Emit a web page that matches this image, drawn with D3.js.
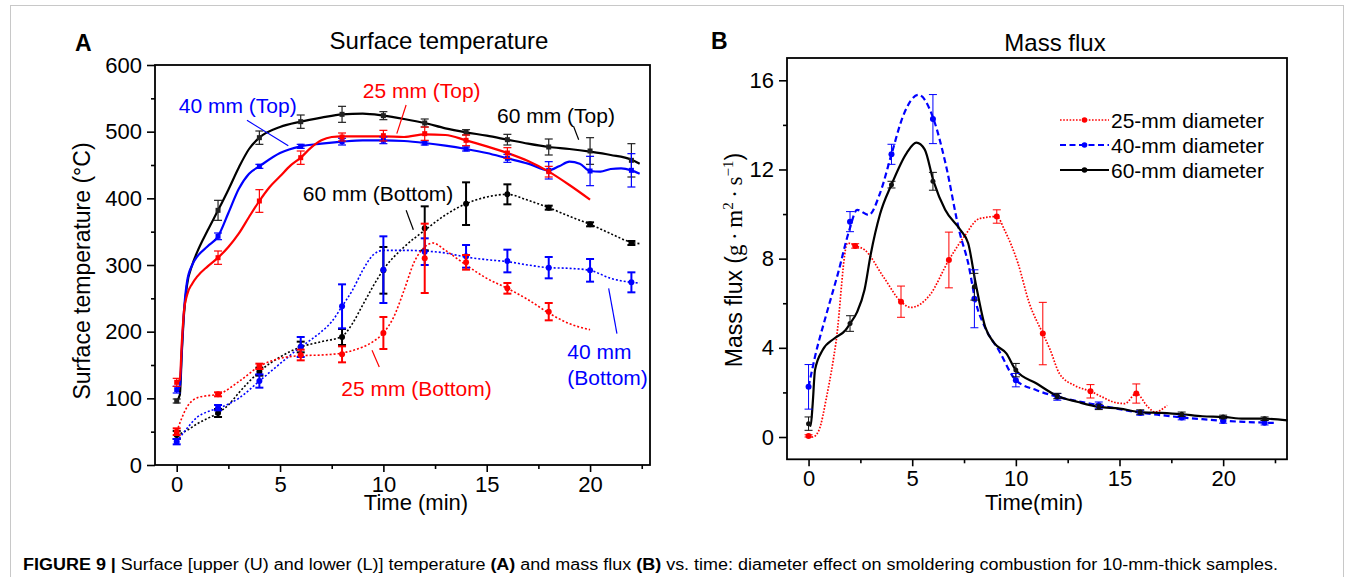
<!DOCTYPE html>
<html><head><meta charset="utf-8">
<script src="https://cdn.jsdelivr.net/npm/d3@7"></script>
<style>
body{margin:0;background:#fff;}
svg{display:block;}
text{font-family:"Liberation Sans",Arial,Helvetica,sans-serif;fill:#000;}
</style>
</head><body>
<svg id="c" width="1354" height="577"></svg>
<script>
// ---------------- DATA ----------------
// Panel A : axis ticks
const aXMajor = [0, 5, 10, 15, 20];
const aXMinor = [2.5, 7.5, 12.5, 17.5, 22.5];
const aYMajor = [0, 100, 200, 300, 400, 500, 600];
const aYMinor = [50, 150, 250, 350, 450, 550];

// Panel A : continuous curves [time(min), temperature(°C)]
const top60Curve = [[0,96],[0.15,105],[0.25,170],[0.35,225],[0.5,270],[0.75,300],[1,320],[1.5,352],[2,382],[2.5,413],[3,446],[3.5,474],[4,491],[5,507],[6,515],[7,521],[8,526],[9,527],[10,524],[11,519],[12,513],[13,505],[14,499],[15,494],[16,488],[17,482],[18,477],[19,474],[20,470],[21,465],[22,458],[22.4,452]];
const top40Curve = [[0,113],[0.15,118],[0.25,175],[0.35,230],[0.5,275],[0.75,300],[1,313],[1.5,328],[2,343],[2.5,378],[3,414],[3.5,437],[4,448],[5,468],[6,478],[7,482],[8,485],[9,487],[10,487],[11,486],[12,483],[13,479],[14,474],[15,468],[16,460],[17,452],[18,442],[18.5,448],[19,455],[19.5,452],[20,441],[20.5,440],[21,444],[21.5,445],[22,442],[22.4,437]];
const top25Curve = [[0,124],[0.15,128],[0.25,185],[0.35,230],[0.5,255],[0.75,272],[1,283],[1.5,298],[2,311],[2.5,327],[3,347],[3.5,372],[4,396],[4.5,417],[5,433],[5.5,449],[6,461],[6.5,476],[7,487],[7.5,492],[8,493],[9,493],[10,493],[11,492],[12,496],[13,495],[14,487],[15,478],[16,468],[17,456],[18,440],[19,420],[20,398]];
const bot60Curve = [[0,45],[0.5,52],[1,62],[1.5,70],[2,78],[2.5,90],[3,108],[3.5,125],[4,140],[5,162],[6,177],[7,185],[8,193],[8.5,212],[9,240],[9.5,268],[10,293],[11,327],[12,352],[13,375],[14,392],[15,402],[16,406],[17,397],[18,386],[19,373],[20,361],[21,347],[22,334],[22.4,332]];
const bot40Curve = [[0,35],[0.5,55],[1,72],[1.5,80],[2,85],[3,100],[4,126],[5,152],[6,177],[6.5,188],[7,200],[7.5,215],[8,238],[8.5,262],[9,292],[9.5,315],[10,322],[11,322],[12,321],[13,318],[14,312],[15,308],[16,305],[17,300],[18,296],[19,295],[20,292],[21,280],[22,274],[22.4,273]];
const bot25Curve = [[0,50],[0.5,87],[1,101],[1.5,104],[2,106],[3,125],[4,148],[5,160],[6,164],[7,165],[8,168],[9,177],[9.5,185],[10,198],[10.5,222],[11,262],[11.5,305],[12,327],[12.4,333],[13,322],[14,300],[15,280],[16,265],[17,248],[18,228],[19,212],[20,203]];

// Panel A : marker means and error bars
const aMarkT = [0, 2, 4, 6, 8, 10, 12, 14, 16, 18, 20, 22];
const top60Val = [96, 382, 491, 515, 526, 524, 513, 499, 488, 477, 471, 457];
const top60Err = [3, 15, 10, 10, 12, 6, 6, 4, 8, 12, 20, 25];
const top40Val = [113, 343, 448, 478, 485, 487, 483, 474, 460, 442, 441, 442];
const top40Err = [5, 5, 3, 3, 5, 5, 3, 3, 6, 13, 22, 25];
const top25T = [0, 2, 4, 6, 8, 10, 12, 14, 16, 18];
const top25Val = [124, 311, 396, 461, 492, 494, 497, 487, 468, 440];
const top25Err = [6, 10, 17, 10, 6, 8, 10, 8, 8, 8];
const bot60Val = [45, 78, 140, 177, 192, 292, 355, 392, 406, 386, 361, 333];
const bot60Err = [6, 6, 6, 8, 12, 35, 33, 32, 15, 3, 3, 3];
const bot40Val = [35, 86, 126, 177, 238, 293, 320, 313, 306, 296, 292, 274];
const bot40Err = [4, 4, 10, 15, 33, 50, 20, 17, 17, 16, 17, 15];
const bot25T = [0, 2, 4, 6, 8, 10, 12, 14, 16, 18];
const bot25Val = [50, 106, 148, 165, 166, 198, 310, 304, 265, 230];
const bot25Err = [5, 3, 4, 8, 12, 24, 52, 11, 8, 13];

// Panel A : annotation labels [text, time, temperature, colour key]
const aLabels = [
  ["40 mm (Top)", 0.1, 539, "blue"],
  ["25 mm (Top)", 9.0, 562, "red"],
  ["60 mm (Top)", 15.5, 525, "black"],
  ["60 mm (Bottom)", 6.1, 407, "black"],
  ["25 mm (Bottom)", 7.96, 115, "red"],
  ["40 mm", 18.9, 170, "blue"],
  ["(Bottom)", 18.9, 132, "blue"]
];
// leader lines [t1, v1, t2, v2, colour key]
const aLeaders = [
  [3.4, 517, 5.4, 479, "blue"],
  [11.1, 540, 10.65, 497, "red"],
  [19.2, 508, 19.45, 488, "black"],
  [11.1, 382, 11.45, 353, "black"],
  [9.8, 147, 9.45, 172, "red"],
  [21.3, 197, 20.9, 265, "blue"]
];

// Panel B : axis ticks
const bXMajor = [0, 5, 10, 15, 20];
const bXMinor = [2.5, 7.5, 12.5, 17.5, 22.5];
const bYMajor = [0, 4, 8, 12, 16];
const bYMinor = [2, 6, 10, 14];

// Panel B : curves [time(min), mass flux]
const flux25Curve = [[0,0.05],[0.2,0],[0.5,0.3],[0.87,1.8],[1.33,4.3],[1.88,8.7],[2.25,8.57],[2.7,8.4],[3.6,7.2],[4.46,6.07],[4.93,5.81],[5.85,6.37],[6.77,7.94],[7.5,8.98],[8.25,9.8],[9.08,9.89],[9.45,9.29],[10.1,7.8],[10.65,6.0],[11.3,4.64],[11.66,3.9],[12.1,2.85],[12.86,2.3],[13.6,2.05],[14.15,1.8],[14.7,1.57],[15.26,1.5],[15.81,1.95],[16.37,1.35],[16.7,1.12],[17.3,1.42]];
const flux40Curve = [[0,2.25],[0.31,3.6],[0.87,5.54],[1.42,7.34],[1.97,9.29],[2.34,10.19],[2.9,9.96],[3.45,10.94],[4.0,12.68],[4.56,14.4],[5.3,15.35],[6.03,14.26],[6.6,12.3],[7.3,9.13],[7.7,7.8],[8.06,6.07],[8.5,4.94],[9.17,3.9],[10,2.55],[11,2.1],[12.03,1.8],[13,1.6],[14.06,1.42],[15,1.25],[16.1,1.08],[17,0.98],[18.1,0.87],[19,0.8],[20.1,0.72],[21,0.68],[22.1,0.64],[22.45,0.63]];
const flux60Curve = [[0,0.6],[0.1,0.5],[0.2,1.5],[0.31,3.0],[0.68,3.9],[1.24,4.42],[1.79,4.8],[2,5.09],[2.34,5.6],[2.7,6.6],[3.0,8.2],[3.45,10.0],[4,11.32],[4.74,12.75],[5.2,13.2],[5.6,12.9],[6.03,11.47],[6.59,10.19],[7.32,9.29],[7.7,8.69],[8.06,6.9],[8.52,4.94],[8.98,4.19],[9.54,3.75],[10,3.0],[11,2.4],[12,1.84],[13,1.57],[14,1.35],[15,1.27],[16,1.12],[17,1.08],[18,1.02],[19,0.93],[20,0.9],[21,0.82],[22,0.82],[23.1,0.75]];

// Panel B : markers with error bars
const flux25T = [0, 2.25, 4.46, 6.77, 9.08, 11.3, 13.6, 15.81];
const flux25Val = [0.05, 8.57, 6.07, 7.94, 9.89, 4.64, 2.05, 1.95];
const flux25Err = [0.05, 0.1, 0.7, 1.25, 0.3, 1.4, 0.3, 0.43];
const bMarkT = [0, 2, 4, 6, 8, 10, 12, 14, 16, 18, 20, 22];
const flux40Val = [2.25, 9.66, 12.68, 14.26, 6.2, 2.55, 1.8, 1.42, 1.08, 0.87, 0.72, 0.64];
const flux40Err = [1.0, 0.45, 0.45, 1.1, 1.3, 0.3, 0.15, 0.15, 0.1, 0.1, 0.1, 0.1];
const flux60Val = [0.6, 5.09, 11.32, 11.47, 6.74, 3.0, 1.84, 1.35, 1.12, 1.02, 0.9, 0.82];
const flux60Err = [0.3, 0.35, 0.15, 0.4, 0.6, 0.3, 0.12, 0.12, 0.1, 0.1, 0.08, 0.08];
const legendLabels = ["25-mm diameter", "40-mm diameter", "60-mm diameter"];

// ---------------- DRAWING ----------------
const COL = {red: "#ff0000", blue: "#0000ff", black: "#000000"};
const svg = d3.select("#c");

// outer light frame
svg.append("rect").attr("x", 10.5).attr("y", 5.5).attr("width", 1333).attr("height", 640)
  .attr("fill", "none").attr("stroke", "#c8c8c8").attr("stroke-width", 1);

const xA = d3.scaleLinear().domain([-1.05, 22.9]).range([155, 650]);
const yA = d3.scaleLinear().domain([0, 600]).range([465, 65]);
const xB = d3.scaleLinear().domain([-1.04, 23.08]).range([787, 1287]);
const yB = d3.scaleLinear().domain([-1, 17]).range([459.3, 58]);

function drawAxes(x, y, xMaj, xMin, yMaj, yMin) {
  const [x0, x1] = x.range(), [yb, yt] = y.range();
  svg.append("g").attr("transform", `translate(0,${yb})`)
    .call(d3.axisBottom(x).tickValues(xMaj).tickSize(7).tickSizeOuter(0).tickPadding(4));
  svg.append("g").attr("transform", `translate(0,${yb})`)
    .call(d3.axisBottom(x).tickValues(xMin).tickSize(4).tickSizeOuter(0).tickFormat(""));
  svg.append("g").attr("transform", `translate(${x0},0)`)
    .call(d3.axisLeft(y).tickValues(yMaj).tickSize(8).tickSizeOuter(0).tickPadding(5));
  svg.append("g").attr("transform", `translate(${x0},0)`)
    .call(d3.axisLeft(y).tickValues(yMin).tickSize(4).tickSizeOuter(0).tickFormat(""));
  svg.selectAll(".domain").remove();
  svg.selectAll(".tick line").attr("stroke", "#000").attr("stroke-width", 1.6);
  svg.selectAll(".tick text").attr("font-size", 22).attr("font-family", '"Liberation Sans",Arial,sans-serif');
  svg.append("rect").attr("x", x0).attr("y", yt).attr("width", x1 - x0).attr("height", yb - yt)
    .attr("fill", "none").attr("stroke", "#000").attr("stroke-width", 1.8);
}

function drawCurve(x, y, pts, color, width, dash) {
  const line = d3.line().x(d => x(d[0])).y(d => y(d[1])).curve(d3.curveMonotoneX);
  svg.append("path").attr("d", line(pts)).attr("fill", "none").attr("stroke", color)
    .attr("stroke-width", width).attr("stroke-dasharray", dash || null)
    .attr("stroke-linejoin", "round");
}

function drawMarks(x, y, ts, vs, es, color, ew, shape, size) {
  const g = svg.append("g");
  ts.forEach((t, i) => {
    const cx = x(t), cy = y(vs[i]), top = y(vs[i] + es[i]), bot = y(vs[i] - es[i]);
    const cap = 4;
    g.append("line").attr("x1", cx).attr("x2", cx).attr("y1", top).attr("y2", bot).attr("stroke", color).attr("stroke-width", ew);
    g.append("line").attr("x1", cx - cap).attr("x2", cx + cap).attr("y1", top).attr("y2", top).attr("stroke", color).attr("stroke-width", ew);
    g.append("line").attr("x1", cx - cap).attr("x2", cx + cap).attr("y1", bot).attr("y2", bot).attr("stroke", color).attr("stroke-width", ew);
    if (shape === "square") {
      g.append("rect").attr("x", cx - size).attr("y", cy - size).attr("width", 2 * size).attr("height", 2 * size).attr("fill", color);
    } else {
      g.append("circle").attr("cx", cx).attr("cy", cy).attr("r", size).attr("fill", color);
    }
  });
}

// ---- Panel A ----
drawAxes(xA, yA, aXMajor, aXMinor, aYMajor, aYMinor);
drawCurve(xA, yA, bot60Curve, COL.black, 1.6, "2,2");
drawCurve(xA, yA, bot40Curve, COL.blue, 1.6, "2,2");
drawCurve(xA, yA, bot25Curve, COL.red, 1.6, "2,2");
drawCurve(xA, yA, top60Curve, COL.black, 2.2);
drawCurve(xA, yA, top40Curve, COL.blue, 2.2);
drawCurve(xA, yA, top25Curve, COL.red, 2.2);
drawMarks(xA, yA, aMarkT, top60Val, top60Err, "#222", 1.2, "square", 2.5);
drawMarks(xA, yA, aMarkT, top40Val, top40Err, COL.blue, 1.2, "square", 2.5);
drawMarks(xA, yA, top25T, top25Val, top25Err, COL.red, 1.2, "square", 2.5);
drawMarks(xA, yA, aMarkT, bot60Val, bot60Err, COL.black, 2, "circle", 3);
drawMarks(xA, yA, aMarkT, bot40Val, bot40Err, COL.blue, 2, "circle", 3);
drawMarks(xA, yA, bot25T, bot25Val, bot25Err, COL.red, 2, "circle", 3);

aLeaders.forEach(d => {
  svg.append("line").attr("x1", xA(d[0])).attr("y1", yA(d[1])).attr("x2", xA(d[2])).attr("y2", yA(d[3]))
    .attr("stroke", COL[d[4]]).attr("stroke-width", 1.2);
});
aLabels.forEach(d => {
  svg.append("text").attr("x", xA(d[1])).attr("y", yA(d[2])).attr("dy", "0.36em")
    .attr("font-size", 21).style("fill", COL[d[3]]).text(d[0]);
});

svg.append("text").attr("x", 75).attr("y", 51).attr("font-size", 23).attr("font-weight", "bold").text("A");
svg.append("text").attr("x", 439).attr("y", 49).attr("text-anchor", "middle").attr("font-size", 24).text("Surface temperature");
svg.append("text").attr("transform", "translate(90,271) rotate(-90)").attr("text-anchor", "middle")
  .attr("font-size", 23).text("Surface temperature (°C)");
svg.append("text").attr("x", 416).attr("y", 510).attr("text-anchor", "middle").attr("font-size", 22).text("Time (min)");

// ---- Panel B ----
drawAxes(xB, yB, bXMajor, bXMinor, bYMajor, bYMinor);
drawCurve(xB, yB, flux25Curve, COL.red, 1.7, "1.6,1.6");
drawCurve(xB, yB, flux40Curve, COL.blue, 2.2, "6,3.5");
drawCurve(xB, yB, flux60Curve, COL.black, 2.2);
drawMarks(xB, yB, flux25T, flux25Val, flux25Err, COL.red, 1, "circle", 3);
drawMarks(xB, yB, bMarkT, flux40Val, flux40Err, COL.blue, 1, "circle", 3);
drawMarks(xB, yB, bMarkT, flux60Val, flux60Err, "#111", 1, "circle", 2.5);

// legend
const legStyle = [[COL.red, 1.7, "1.6,1.6"], [COL.blue, 2.2, "6,3.5"], [COL.black, 2.2, null]];
legendLabels.forEach((lab, i) => {
  const ly = 120 + i * 25;
  svg.append("line").attr("x1", 1060).attr("x2", 1109).attr("y1", ly).attr("y2", ly)
    .attr("stroke", legStyle[i][0]).attr("stroke-width", legStyle[i][1]).attr("stroke-dasharray", legStyle[i][2]);
  svg.append("circle").attr("cx", 1084.5).attr("cy", ly).attr("r", 2.8).attr("fill", legStyle[i][0]);
  svg.append("text").attr("x", 1111).attr("y", ly).attr("dy", "0.36em").attr("font-size", 21).text(lab);
});

svg.append("text").attr("x", 711).attr("y", 49).attr("font-size", 23).attr("font-weight", "bold").text("B");
svg.append("text").attr("x", 1055).attr("y", 51).attr("text-anchor", "middle").attr("font-size", 24).text("Mass flux");
const yt = svg.append("text").attr("transform", "translate(742,260) rotate(-90)").attr("text-anchor", "middle").attr("font-size", 23);
yt.append("tspan").text("Mass flux (");
yt.append("tspan").attr("font-family", '"Liberation Serif","DejaVu Serif",serif').text("g\u2009\u00b7\u2009m");
yt.append("tspan").attr("font-family", '"Liberation Serif",serif').attr("font-size", 15).attr("dy", -9).text("2");
yt.append("tspan").attr("font-family", '"Liberation Serif",serif').attr("dy", 9).text("\u2009\u00b7\u2009s");
yt.append("tspan").attr("font-family", '"Liberation Serif",serif').attr("font-size", 15).attr("dy", -9).text("\u22121");
yt.append("tspan").attr("dy", 9).text(")");
svg.append("text").attr("x", 1034).attr("y", 510).attr("text-anchor", "middle").attr("font-size", 22).text("Time(min)");

// ---- caption ----
const cap = svg.append("text").attr("x", 23).attr("y", 570).attr("font-size", 16)
  .attr("textLength", 1255).attr("lengthAdjust", "spacingAndGlyphs");
cap.append("tspan").attr("font-weight", "bold").text("FIGURE 9 | ");
cap.append("tspan").text("Surface [upper (U) and lower (L)] temperature ");
cap.append("tspan").attr("font-weight", "bold").text("(A)");
cap.append("tspan").text(" and mass flux ");
cap.append("tspan").attr("font-weight", "bold").text("(B)");
cap.append("tspan").text(" vs. time: diameter effect on smoldering combustion for 10-mm-thick samples.");
</script>
</body></html>
